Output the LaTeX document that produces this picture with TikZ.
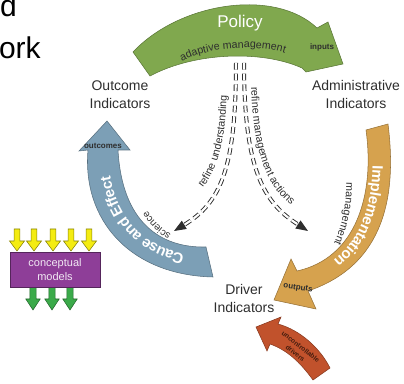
\documentclass[tikz,border=0pt]{standalone}
\usepackage{fontspec}
\setmainfont{Liberation Sans}
\usetikzlibrary{arrows.meta,decorations.text}

\definecolor{policygreen}{HTML}{80A84E}
\definecolor{implorange}{HTML}{D6A24E}
\definecolor{causeblue}{HTML}{7C9FB6}
\definecolor{driverred}{HTML}{C1522C}
\definecolor{modelpurple}{HTML}{8E3E98}
\definecolor{inyellow}{HTML}{F4EC12}
\definecolor{outgreen}{HTML}{3BAA4A}
\definecolor{labelgray}{HTML}{2E2E2E}

\tikzset{
  band/.style={fill=#1, draw=#1!70!black, line width=0.4pt},
  indic/.style={align=center, text=labelgray, inner sep=0pt,
    font=\fontsize{10.5}{13.5}\selectfont},
  tag/.style={text=labelgray, inner sep=0pt, font=\fontsize{6}{7}\selectfont\bfseries},
  ontext/.style={decorate, decoration={text along path, text align=center, text={#1}}},
  refine/.style={draw=labelgray, double=white, double distance=1.6pt,
    line width=0.7pt, dash pattern=on 5pt off 3pt},
  tipline/.style={-{Triangle[length=9pt,width=7pt]}, labelgray, line width=0.7pt},
  inarrow/.style={draw=inyellow!55!black, fill=inyellow, line width=0.4pt},
  outarrow/.style={draw=outgreen!60!black, fill=outgreen, line width=0.4pt},
}

\begin{document}
\begin{tikzpicture}[x=0.75pt, y=-0.75pt]
\useasboundingbox (0,0) rectangle (404,384);

% Title (cut off)
\node[anchor=base east, inner sep=0pt, font=\fontsize{22.5}{27}\selectfont] (ttlA) at (17,17) {d};
\node[anchor=base east, inner sep=0pt, font=\fontsize{22.5}{27}\selectfont] (ttlB) at (41,59) {ork};

% Policy
\draw[band=policygreen] (133,52) .. controls (180,2) and (275,-12) .. (317,28)
  -- (328,22) -- (343,64) -- (306,72) -- (302,68)
  .. controls (262,50) and (195,52) .. (150,76) -- cycle;
\node[text=white, font=\fontsize{12.75}{14}\selectfont] (policy) at (240,23) {Policy};
\path[ontext={|\fontsize{8}{9}\selectfont|adaptive management}, decoration={text color=labelgray}]
  (168,70) .. controls (200,45) and (265,41) .. (300,59);
\node[tag] (inputs) at (322,47) {inputs};

% Implementation
\draw[band=implorange] (388,124) .. controls (397,195) and (385,265) .. (308,291)
  -- (316,309) -- (274,300) -- (291,259) -- (297,271)
  .. controls (356,258) and (375,195) .. (366,130) -- cycle;
\path[ontext={|\fontsize{11.25}{12}\selectfont\bfseries|Implementation}, decoration={text color=white, raise=-4pt}]
  (376,127) .. controls (384,195) and (371,262) .. (302,282);
\path[ontext={|\fontsize{8}{9}\selectfont|management}, decoration={text color=labelgray}]
  (346,170) .. controls (348,200) and (343,230) .. (328,255);
\node[tag, rotate=-8] (outputs) at (298,288) {outputs};

% Cause and Effect
\draw[band=causeblue] (213,277) .. controls (130,275) and (82,220) .. (88,150)
  -- (79,151) -- (107,121) -- (130,150) -- (118,150)
  .. controls (122,222) and (160,248) .. (206,247) -- cycle;
\path[ontext={|\fontsize{11.25}{12}\selectfont\bfseries|Cause and Effect}, decoration={text color=white, raise=-4pt}]
  (210,262) .. controls (145,262) and (102,221) .. (103,150);
\path[ontext={|\fontsize{7.5}{8}\selectfont|science}, decoration={text color=labelgray}]
  (177,238) .. controls (163,231) and (152,221) .. (144,205);
\node[tag] (outcomes) at (103,146) {outcomes};

% Drivers from outside
\draw[band=driverred] (313,380) .. controls (300,362) and (287,350) .. (270,344)
  -- (267,351) -- (256,327) -- (281,317) -- (278,324)
  .. controls (300,330) and (320,348) .. (330,368) -- cycle;
\node[rotate=-38, align=center, inner sep=0pt, text=driverred!35!black,
  font=\fontsize{5}{6.5}\selectfont\bfseries] (extdrv) at (298,350) {uncontrollable\\drivers};

% Indicators
\node[indic] (outcome) at (120,95) {Outcome\\Indicators};
\node[indic] (admin) at (356,95) {Administrative\\Indicators};
\node[indic] (driver) at (244,298) {Driver\\Indicators};

% Feedback arrows
\coordinate (hubL) at (236,63);
\coordinate (hubR) at (244,63);
\coordinate (sciPre) at (184,225);
\coordinate (sciTip) at (174,231);
\coordinate (mgtPre) at (298,224.5);
\coordinate (mgtTip) at (308,231);
\draw[refine] (hubL) .. controls (236,170) and (220,203) .. (sciPre);
\draw[tipline] (sciPre) -- (sciTip);
\draw[refine] (hubR) .. controls (244,170) and (264,203) .. (mgtPre);
\draw[tipline] (mgtPre) -- (mgtTip);
\path[ontext={|\fontsize{8}{9}\selectfont|refine understanding}, decoration={text color=labelgray}]
  (197,195) .. controls (219,171) and (226,140) .. (227,86);
\path[ontext={|\fontsize{8}{9}\selectfont|refine management actions}, decoration={text color=labelgray}]
  (251,72) .. controls (251,160) and (270,195) .. (304,214);

% Conceptual models
\foreach \ax in {33,52,70}
  \draw[outarrow] (\ax-3.2,286) -- (\ax+3.2,286) -- (\ax+3.2,299) -- (\ax+7.2,299)
    -- (\ax,310) -- (\ax-7.2,299) -- (\ax-3.2,299) -- cycle;
\foreach \ax in {17,34,53,71,89}
  \draw[inarrow] (\ax-2.8,229) -- (\ax+2.8,229) -- (\ax+2.8,241) -- (\ax+7.5,241)
    -- (\ax,251) -- (\ax-7.5,241) -- (\ax-2.8,241) -- cycle;
\node[fill=modelpurple, draw=modelpurple!60!black, line width=0.4pt,
  minimum width=67.5pt, minimum height=26pt, align=center, text=white!88!modelpurple,
  font=\fontsize{8.25}{10}\selectfont] (models) at (55,269.5) {conceptual\\models};
\end{tikzpicture}
\end{document}
